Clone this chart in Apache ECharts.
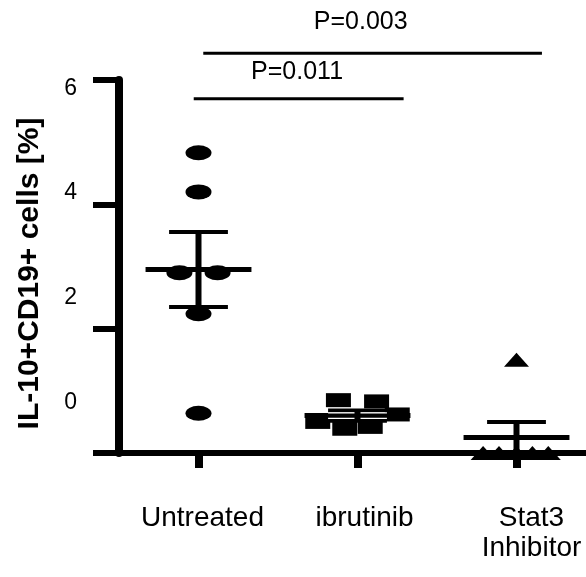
<!DOCTYPE html>
<html>
<head>
<meta charset="utf-8">
<script src="https://cdn.jsdelivr.net/npm/echarts@6/dist/echarts.min.js"></script>
<style>
  html, body { margin: 0; padding: 0; background: #fff; overflow: hidden; }
  #chart { width: 610px; height: 577px; }
</style>
</head>
<body>
<div id="chart"></div>
<script>
// ---- data ----
const categories = ['Untreated', 'ibrutinib', 'Stat3\nInhibitor'];
const untreatedValues = [4.83, 4.20, 2.90, 2.90, 2.24, 0.64];
const untreatedJitter = [0, 0, -0.12, 0.12, 0, 0];
const ibrutinibValues = [0.85, 0.83, 0.62, 0.50, 0.39, 0.42];
const ibrutinibJitter = [-0.12, 0.12, 0.25, -0.25, -0.08, 0.08];
const stat3Values = [1.50, 0, 0, 0, 0, 0];
const stat3Jitter = [0, -0.21, -0.11, 0, 0.10, 0.20];
const yTickValues = [0, 2, 4, 6];
const yLabelValues = [0, 2, 4, 6];
const pLabels = ['P=0.011', 'P=0.003'];
const pFrom = [-0.03, 0.03];
const pTo = [1.29, 2.16];
const pLevel = [5.70, 6.43];
const pTextX = [0.62, 1.02];
const pTextY = [6.12, 6.93];

// style: per-category label nudge (left padding, px)
const labelPad = [8, 14, 30];

const FONT = '"Liberation Sans", Arial, Helvetica, sans-serif';

function stats(arr) {
  const n = arr.length;
  const m = arr.reduce((a, b) => a + b, 0) / n;
  const sd = Math.sqrt(arr.reduce((a, b) => a + (b - m) * (b - m), 0) / (n - 1));
  return [m, sd / Math.sqrt(n)];
}
const groups = [untreatedValues, ibrutinibValues, stat3Values];
const jitters = [untreatedJitter, ibrutinibJitter, stat3Jitter];
const errData = groups.map((g, i) => { const s = stats(g); return [i, s[0], s[1]]; });

function pts(i) { return groups[i].map((v, k) => [i + jitters[i][k], v]); }

const chart = echarts.init(document.getElementById('chart'));
chart.setOption({
  backgroundColor: '#fff',
  animation: false,
  grid: { left: 119, top: 80, width: 477, height: 373, containLabel: false },
  xAxis: [
    {
      type: 'category',
      data: categories.map((c, i) => ({ value: c, textStyle: { padding: [0, 0, 0, labelPad[i]] } })),
      boundaryGap: true,
      axisLine: { show: true, onZero: false, lineStyle: { color: '#000', width: 6 } },
      axisTick: { show: true, alignWithLabel: true, interval: 0, inside: false, length: 15, lineStyle: { color: '#000', width: 8 } },
      axisLabel: { interval: 0, fontSize: 28, lineHeight: 30, color: '#000', fontFamily: FONT, margin: 50 },
      splitLine: { show: false }
    },
    { type: 'value', min: -0.5, max: 2.5, show: false }
  ],
  yAxis: [
    {
      type: 'value', min: 0, max: 6, interval: 2, position: 'left',
      name: 'IL-10+CD19+ cells [%]', nameLocation: 'middle', nameGap: 74,
      nameTextStyle: { fontSize: 30, fontWeight: 'bold', color: '#000', fontFamily: FONT, padding: [0, 14, 0, 0] },
      axisLine: { show: true, onZero: false, lineStyle: { color: '#000', width: 8 } },
      axisTick: { show: true, length: 26, lineStyle: { color: '#000', width: 6 } },
      axisLabel: { show: false },
      splitLine: { show: false }
    },
    {
      type: 'value', min: -0.97, max: 6.16, position: 'left',
      axisLine: { show: false, onZero: false },
      axisTick: { show: false },
      splitLine: { show: false },
      axisLabel: { customValues: yLabelValues, fontSize: 23, color: '#000', fontFamily: FONT, margin: 42,
                   formatter: v => String(v) }
    }
  ],
  series: [
    { type: 'scatter', xAxisIndex: 1, yAxisIndex: 0, clip: false, symbol: 'circle', symbolSize: [26, 15],
      itemStyle: { color: '#000', opacity: 1 }, data: pts(0), z: 2 },
    { type: 'scatter', xAxisIndex: 1, yAxisIndex: 0, clip: false, symbol: 'rect', symbolSize: [25, 14],
      itemStyle: { color: '#000', opacity: 1 }, data: pts(1), z: 2 },
    { type: 'scatter', xAxisIndex: 1, yAxisIndex: 0, clip: false, symbol: 'triangle', symbolSize: [25, 14],
      itemStyle: { color: '#000', opacity: 1 }, data: pts(2), z: 2 },
    {
      type: 'custom', xAxisIndex: 1, yAxisIndex: 0, z: 3, clip: false,
      data: errData,
      renderItem: function (params, api) {
        const idx = api.value(0), mean = api.value(1), sem = api.value(2);
        const c = api.coord([idx, mean]);
        const hi = api.coord([idx, mean + sem]);
        const lo = api.coord([idx, mean - sem]);
        const band = api.size([1, 0])[0];
        const mh = band * 0.333, ch = band * 0.185;
        const L = (x1, y1, x2, y2, w, col) => ({ type: 'line', shape: { x1, y1, x2, y2 }, style: { stroke: col || '#000', lineWidth: w } });
        const ch1 = [
          L(c[0] - ch, hi[1], c[0] + ch, hi[1], 4),
          L(c[0] - ch, lo[1], c[0] + ch, lo[1], 4),
          L(c[0] - mh, c[1], c[0] + mh, c[1], 5)
        ];
        if (params.dataIndex === 1) {
          ch1.push(L(c[0] - ch, c[1] - 2.8, c[0] + ch, c[1] - 2.8, 1.2, '#fff'));
          ch1.push(L(c[0] - ch, c[1] + 2.8, c[0] + ch, c[1] + 2.8, 1.2, '#fff'));
        }
        ch1.push(L(c[0], hi[1], c[0], lo[1], 6));
        return { type: 'group', children: ch1 };
      }
    },
    {
      type: 'custom', xAxisIndex: 1, yAxisIndex: 0, z: 3, clip: false,
      data: pLabels.map((t, i) => [pFrom[i], pTo[i], pLevel[i], pTextX[i], pTextY[i]]),
      renderItem: function (params, api) {
        const a = api.coord([api.value(0), api.value(2)]);
        const b = api.coord([api.value(1), api.value(2)]);
        const t = api.coord([api.value(3), api.value(4)]);
        return {
          type: 'group', children: [
            { type: 'line', shape: { x1: a[0], y1: a[1], x2: b[0], y2: b[1] }, style: { stroke: '#000', lineWidth: 3 } },
            { type: 'text', x: t[0], y: t[1], style: { text: pLabels[params.dataIndex], fontSize: 25, fontFamily: FONT, fill: '#000', align: 'center', verticalAlign: 'middle' } }
          ]
        };
      }
    }
  ]
});
</script>
</body>
</html>
